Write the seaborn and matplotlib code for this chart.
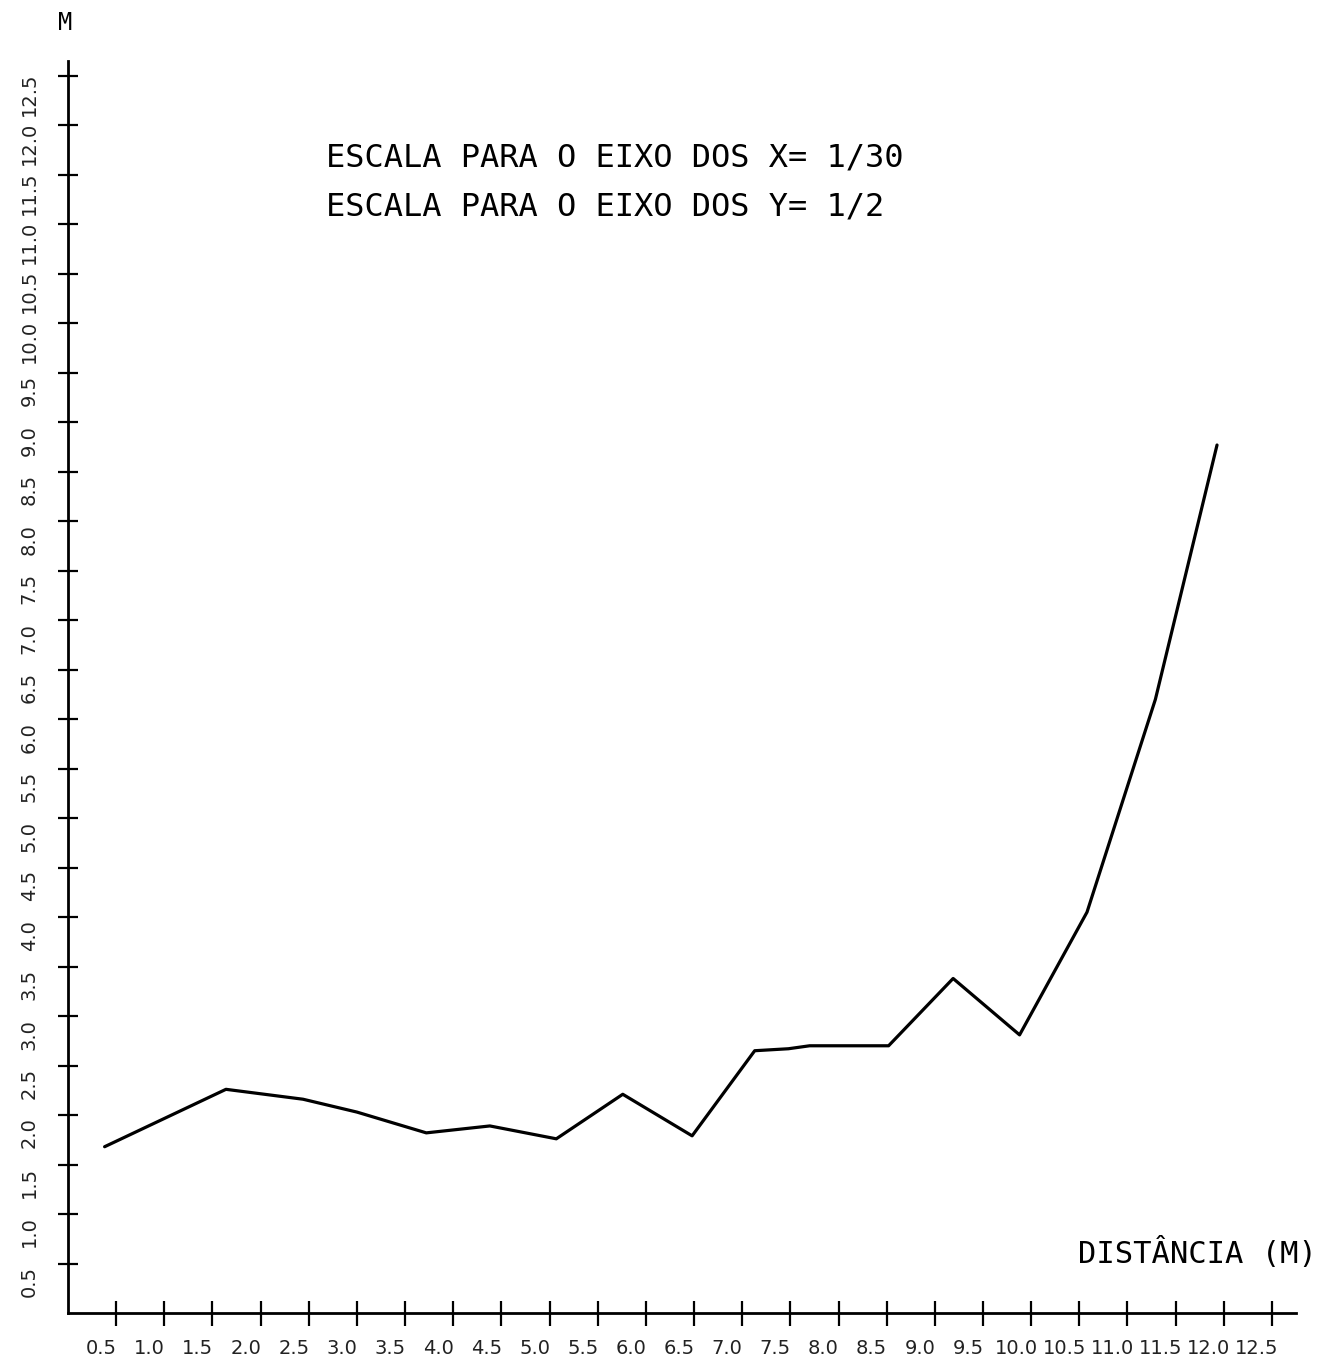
import matplotlib
matplotlib.use("Agg")
import matplotlib.pyplot as plt
from matplotlib.transforms import ScaledTranslation
import pandas as pd
import seaborn as sns

# Profile: distance along the section (x) and height (y), both in metres
distancia = [0.38, 1.64, 2.44, 3.00, 3.72, 4.38, 5.07, 5.76, 6.48, 7.13,
             7.48, 7.70, 8.52, 9.19, 9.88, 10.58, 11.29, 11.93]
altura = [1.68, 2.26, 2.16, 2.03, 1.82, 1.89, 1.76, 2.21, 1.79, 2.65,
          2.67, 2.70, 2.70, 3.38, 2.81, 4.05, 6.20, 8.77]

x_ticks = [0.5, 1.0, 1.5, 2.0, 2.5, 3.0, 3.5, 4.0, 4.5, 5.0, 5.5, 6.0, 6.5,
           7.0, 7.5, 8.0, 8.5, 9.0, 9.5, 10.0, 10.5, 11.0, 11.5, 12.0, 12.5]
x_tick_labels = ["0.5", "1.0", "1.5", "2.0", "2.5", "3.0", "3.5", "4.0", "4.5",
                 "5.0", "5.5", "6.0", "6.5", "7.0", "7.5", "8.0", "8.5", "9.0",
                 "9.5", "10.0", "10.5", "11.0", "11.5", "12.0", "12.5"]
y_ticks = x_ticks
y_tick_labels = x_tick_labels

titulo_x = "ESCALA PARA O EIXO DOS X= 1/30"
titulo_y = "ESCALA PARA O EIXO DOS Y= 1/2"
rotulo_x = "DISTÂNCIA (M)"
rotulo_y = "M"

df = pd.DataFrame({"distancia": distancia, "altura": altura})

sns.set_style("white")
plt.rcParams["font.family"] = ["DejaVu Sans Mono", "DejaVu Sans"]

W, H = 1324, 1368
fig = plt.figure(figsize=(W / 100, H / 100), dpi=100)
ax = fig.add_axes([68 / W, 1 - 1313 / H, 1228 / W, 1252 / H])

sns.lineplot(data=df, x="distancia", y="altura", sort=False, color="black",
             linewidth=2.3, ax=ax)

ax.set_xlim(0, 12.75)
ax.set_ylim(0, 12.65)
ax.set_xlabel("")
ax.set_ylabel("")

for side in ("top", "right"):
    ax.spines[side].set_visible(False)
for side in ("left", "bottom"):
    ax.spines[side].set_color("black")
    ax.spines[side].set_linewidth(2.0)

tick_font = ["Liberation Sans Narrow", "DejaVu Sans"]
ax.set_xticks(x_ticks)
ax.set_xticklabels(x_tick_labels, family=tick_font, fontsize=14, color="#222222")
ax.set_yticks(y_ticks)
ax.set_yticklabels(y_tick_labels, family=tick_font, fontsize=14, color="#222222",
                   rotation=90, va="center")

ax.tick_params(axis="x", bottom=True, direction="inout", length=18, width=1.6,
               color="black", pad=10)
ax.tick_params(axis="y", left=True, direction="inout", length=14, width=1.6,
               color="black", pad=14)

# shift tick labels slightly off their ticks, plotter style
for lab in ax.get_xticklabels():
    lab.set_transform(lab.get_transform() + ScaledTranslation(-15 / 100, 0, fig.dpi_scale_trans))
for lab in ax.get_yticklabels():
    lab.set_transform(lab.get_transform() + ScaledTranslation(0, -18 / 100, fig.dpi_scale_trans))

fig.text(326 / W, 1 - 158 / H, titulo_x, fontsize=23, va="center", ha="left", color="black")
fig.text(326 / W, 1 - 207 / H, titulo_y, fontsize=23, va="center", ha="left", color="black")
fig.text(1078 / W, 1 - 1253 / H, rotulo_x, fontsize=22, va="center", ha="left", color="black")
fig.text(65 / W, 1 - 23 / H, rotulo_y, fontsize=17, va="center", ha="center", color="black")

fig.savefig("out.png", dpi=100, facecolor="white")
